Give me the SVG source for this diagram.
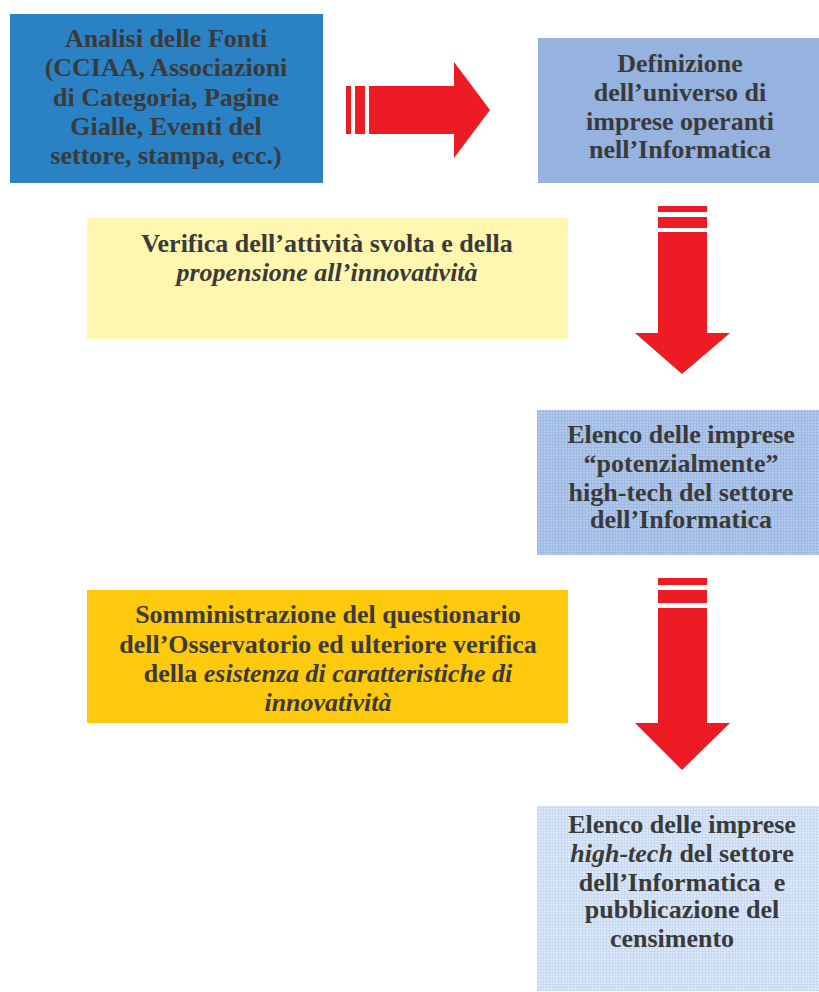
<svg xmlns="http://www.w3.org/2000/svg" width="819" height="992" viewBox="0 0 819 992">
<defs>
<style>
text{font-family:"Liberation Serif","Times New Roman",serif;font-weight:bold;font-size:26px;fill:#3a3a3a;text-anchor:middle}
.it{font-style:italic}
.arrow{fill:#ED1C24}
</style>
<pattern id="grid1" width="6" height="6" patternUnits="userSpaceOnUse">
<rect width="6" height="6" fill="#B3C9EA"/>
<path d="M0 0.5H6M0 3.5H6M0.5 0V6M3.5 0V6" stroke="#9EB9E3" stroke-width="1"/>
</pattern>
<pattern id="grid2" width="6" height="6" patternUnits="userSpaceOnUse">
<rect width="6" height="6" fill="#DCE8F7"/>
<path d="M0 0.5H6M0 3.5H6M0.5 0V6M3.5 0V6" stroke="#C7DAF2" stroke-width="1"/>
</pattern>
</defs>
<rect width="819" height="992" fill="#ffffff"/>

<g id="connectors">
<g id="arrow-right">
<rect class="arrow" x="346" y="86" width="5" height="48"/>
<rect class="arrow" x="355" y="86" width="10" height="48"/>
<polygon class="arrow" points="369,86 454,86 454,62 490,110 454,158 454,134 369,134"/>
</g>
<g id="arrow-down-1">
<rect class="arrow" x="658" y="206" width="49" height="6"/>
<rect class="arrow" x="658" y="217" width="49" height="11"/>
<polygon class="arrow" points="658,232 707,232 707,333 730,333 682,374 635,333 658,333"/>
</g>
<g id="arrow-down-2">
<rect class="arrow" x="658" y="578" width="49" height="7"/>
<rect class="arrow" x="658" y="590" width="49" height="13"/>
<polygon class="arrow" points="658,608 707,608 707,723 730,723 682,770 635,723 658,723"/>
</g>
</g>

<g id="node-analisi">
<rect x="10" y="14" width="313" height="169" fill="#2A82C5"/>
<text x="166" y="47">Analisi delle Fonti</text>
<text x="166" y="76">(CCIAA, Associazioni</text>
<text x="166" y="106">di Categoria, Pagine</text>
<text x="166" y="135">Gialle, Eventi del</text>
<text x="166" y="164">settore, stampa, ecc.)</text>
</g>

<g id="node-definizione">
<rect x="538" y="38" width="281" height="145" fill="#95B3DE"/>
<text x="680" y="72">Definizione</text>
<text x="680" y="101">dell’universo di</text>
<text x="680" y="130">imprese operanti</text>
<text x="680" y="158">nell’Informatica</text>
</g>

<g id="node-verifica">
<rect x="87" y="218" width="481" height="121" fill="#FFF6B0"/>
<text x="327" y="252">Verifica dell’attività svolta e della</text>
<text x="327" y="281" class="it">propensione all’innovatività</text>
</g>

<g id="node-elenco-potenziali">
<rect x="537" y="410" width="282" height="145" fill="url(#grid1)"/>
<text x="681" y="443">Elenco delle imprese</text>
<text x="681" y="472">“potenzialmente”</text>
<text x="681" y="501">high-tech del settore</text>
<text x="681" y="528">dell’Informatica</text>
</g>

<g id="node-somministrazione">
<rect x="87" y="590" width="481" height="133" fill="#FFC90D"/>
<text x="328" y="623">Somministrazione del questionario</text>
<text x="328" y="653">dell’Osservatorio ed ulteriore verifica</text>
<text x="328" y="682">della <tspan class="it">esistenza di caratteristiche di</tspan></text>
<text x="328" y="711" class="it">innovatività</text>
</g>

<g id="node-elenco-hightech">
<rect x="537" y="806" width="282" height="185" fill="url(#grid2)"/>
<text x="682" y="833">Elenco delle imprese</text>
<text x="682" y="862"><tspan class="it">high-tech</tspan> del settore</text>
<text x="682" y="891" xml:space="preserve">dell’Informatica  e</text>
<text x="682" y="918">pubblicazione del</text>
<text x="672" y="947">censimento</text>
</g>
</svg>
